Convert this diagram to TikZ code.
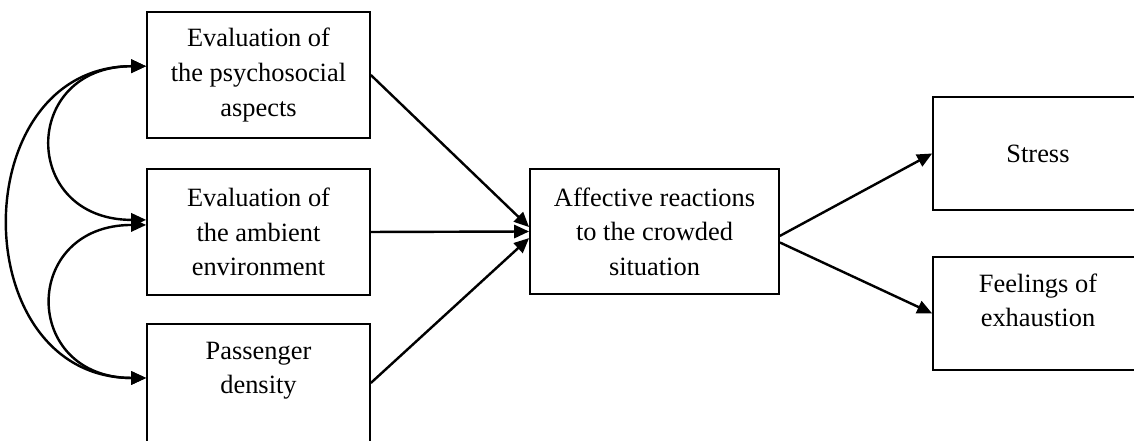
\documentclass[tikz,border=0pt]{standalone}
\usepackage{fontspec}
\setmainfont{Liberation Serif}
\usetikzlibrary{arrows.meta,calc}

\begin{document}
\begin{tikzpicture}[x=0.4545pt, y=-0.4545pt,
  font=\fontsize{12}{15.7}\selectfont,
  box/.style={draw, line width=0.8pt, align=center, inner sep=4pt,
    minimum width=101.3pt, minimum height=57pt},
  midbox/.style={box, minimum width=113.2pt, minimum height=56.8pt},
  outbox/.style={box, minimum width=95.4pt, minimum height=51.4pt},
  topbox/.style={anchor=north, minimum height=0pt, text height=27.8pt},
  arr/.style={-{Triangle[length=6.8pt, width=6pt]}, line width=1.1pt},
  corr/.style={{Triangle[length=6.8pt, width=6pt]}-{Triangle[length=6.8pt, width=6pt]}, line width=1.1pt}]

\useasboundingbox (0,0) rectangle (1134,441);

% ---- predictors (left column)
\node[box] (psy) at (258.5,75) {Evaluation of\\the psychosocial\\aspects};
\node[box] (amb) at (258.5,232) {Evaluation of\\the ambient\\environment};
\node[box, topbox, text depth=29.2pt] (dens) at (258.5,323) {Passenger\\density};

% ---- mediator
\node[midbox] (aff) at (654.5,231.5) {Affective reactions\\to the crowded\\situation};

% ---- outcomes (cut at the right edge)
\node[outbox] (str) at (1038,153.5) {Stress};
\node[outbox, topbox, text depth=15.6pt] (feel) at (1038,256) {Feelings of\\exhaustion};

% ---- paths
\draw[arr] (psy.east) -- ([yshift=2pt]aff.west);
\draw[arr] (amb.east) -- (aff.west);
\draw[arr] ($(dens.north east)+(0,60)$) -- ([yshift=-3pt]aff.west);
\draw[arr] ([yshift=-2pt]aff.east) -- (str.west);
\draw[arr] ([yshift=-5pt]aff.east) -- (feel.west);

% ---- correlations
\draw[corr] ([yshift=4pt]psy.west) to[out=180, in=180, looseness=2.1] ([yshift=5.5pt]amb.west);
\draw[corr] ([yshift=3.2pt]amb.west) to[out=180, in=180, looseness=2.1] ($(dens.north west)+(0,55)$);
\draw[corr] ([yshift=4pt]psy.west) to[out=180, in=180, looseness=1.5] ($(dens.north west)+(0,55)$);
\end{tikzpicture}
\end{document}
